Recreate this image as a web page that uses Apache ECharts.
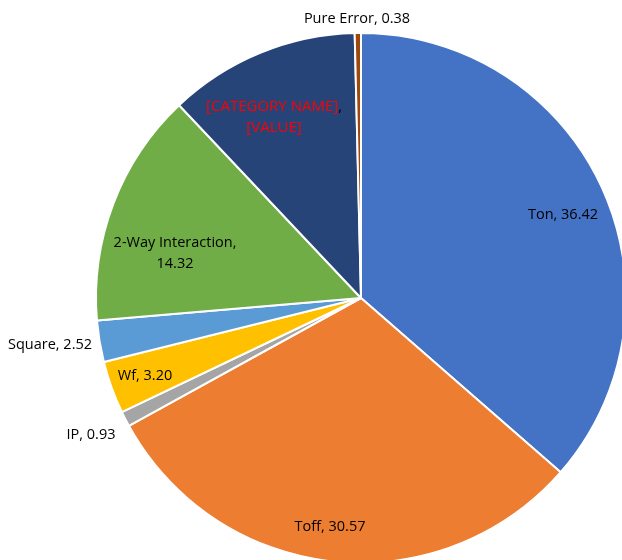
<!DOCTYPE html>
<html>
<head>
<meta charset="utf-8">
<script src="https://cdn.jsdelivr.net/npm/echarts@6/dist/echarts.min.js"></script>
<style>html,body{margin:0;padding:0;background:#fff;}#c{width:622px;height:560px;}</style>
</head>
<body>
<div id="c"></div>
<script>
const categories = ['Ton', 'Toff', 'IP', 'Wf', 'Square', '2-Way Interaction', '[CATEGORY NAME]', 'Pure Error'];
const values = [36.42, 30.57, 0.93, 3.20, 2.52, 14.32, 11.66, 0.38];
const colors = ['#4472C4', '#ED7D31', '#A5A5A5', '#FFC000', '#5B9BD5', '#70AD47', '#264478', '#9E480E'];
// label centers (pixels)
const labelPos = [[563, 215], [330, 527], [91, 435], [145, 376], [50, 345], [175, 253], [274, 117], [357, 19]];

const FS = 14.5;
const chart = echarts.init(document.getElementById('c'));
chart.setOption({
  animation: false,
  series: [{
    type: 'pie',
    center: [361, 298],
    radius: 265,
    startAngle: 90,
    clockwise: true,
    itemStyle: { borderColor: '#fff', borderWidth: 2 },
    labelLine: { show: false },
    label: {
      show: true,
      position: 'inside',
      color: '#000',
      fontFamily: 'Open Sans',
      fontSize: FS,
      lineHeight: 21,
      align: 'center',
      formatter: function (p) {
        if (p.dataIndex === 6) return '{r|[CATEGORY NAME]}{k|,}\n{r|[VALUE]}';
        if (p.dataIndex === 5) return p.name + ',\n' + p.value.toFixed(2);
        return p.name + ', ' + p.value.toFixed(2);
      },
      rich: {
        r: { color: '#FF0000', fontFamily: 'Open Sans', fontSize: 15, lineHeight: 21 },
        k: { color: '#000', fontFamily: 'Open Sans', fontSize: FS, lineHeight: 21 }
      }
    },
    labelLayout: function (p) {
      const pos = labelPos[p.dataIndex];
      return { x: pos[0], y: pos[1], align: 'center', verticalAlign: 'middle' };
    },
    data: categories.map((n, i) => ({ name: n, value: values[i], itemStyle: { color: colors[i] } }))
  }]
});
</script>
</body>
</html>
